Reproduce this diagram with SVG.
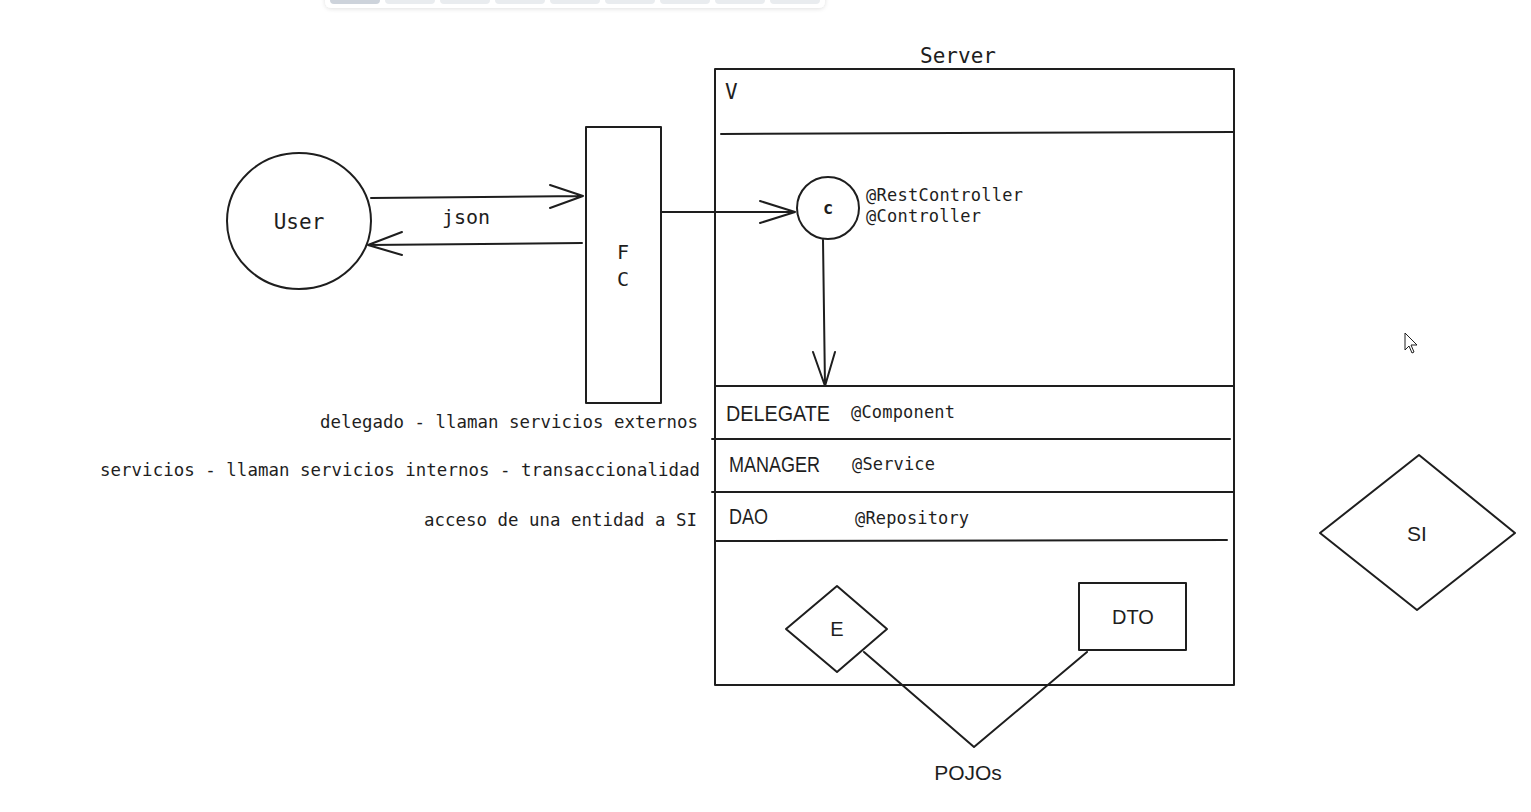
<svg xmlns="http://www.w3.org/2000/svg" width="1531" height="812" viewBox="0 0 1531 812">
<defs>
<style>
.s{fill:none;stroke:#1e1e1e;stroke-width:2;stroke-linecap:round;stroke-linejoin:round}
.w{fill:#fff;stroke:#1e1e1e;stroke-width:2;stroke-linejoin:round}
.m{font-family:"DejaVu Sans Mono","Liberation Mono",monospace;fill:#1e1e1e}
.n{font-family:"Liberation Sans","Noto Sans",sans-serif;fill:#1e1e1e}
.note{font-family:"DejaVu Sans Mono","Liberation Mono",monospace;fill:#1e1e1e;font-size:17.4px}
.ann{font-family:"DejaVu Sans Mono","Liberation Mono",monospace;fill:#1e1e1e;font-size:17px}
.tb{fill:#e9ecef}
</style>
<filter id="sh" x="-5%" y="-50%" width="110%" height="250%"><feDropShadow dx="0" dy="1" stdDeviation="2" flood-color="#000" flood-opacity="0.12"/></filter>
</defs>
<rect width="1531" height="812" fill="#fff"/>

<g id="toolbar">
<rect x="325" y="-10" width="500" height="18" rx="6" fill="#fff" filter="url(#sh)"/>
<rect x="330" y="-10" width="50" height="14" rx="4" fill="#cdd3db"/>
<rect class="tb" x="385" y="-10" width="50" height="14" rx="4"/>
<rect class="tb" x="440" y="-10" width="50" height="14" rx="4"/>
<rect class="tb" x="495" y="-10" width="50" height="14" rx="4"/>
<rect class="tb" x="550" y="-10" width="50" height="14" rx="4"/>
<rect class="tb" x="605" y="-10" width="50" height="14" rx="4"/>
<rect class="tb" x="660" y="-10" width="50" height="14" rx="4"/>
<rect class="tb" x="715" y="-10" width="50" height="14" rx="4"/>
<rect class="tb" x="770" y="-10" width="50" height="14" rx="4"/>
</g>

<g id="server">
<rect class="w" x="715" y="69" width="519" height="616"/>
<text class="m" x="958" y="63" font-size="21" text-anchor="middle">Server</text>
<text class="m" x="725" y="99" font-size="21">V</text>
<path class="s" d="M721 134 L1234 132"/>
<path class="s" d="M715 386 L1234 386"/>
<path class="s" d="M712 439 L1230 439"/>
<path class="s" d="M712 492 L1233 492"/>
<path class="s" d="M715 541 L1227 540"/>
</g>

<g id="layers">
<text class="n" x="726" y="421" font-size="22" textLength="104" lengthAdjust="spacingAndGlyphs">DELEGATE</text>
<text class="ann" x="851" y="418" textLength="104">@Component</text>
<text class="n" x="729" y="472" font-size="22" textLength="91" lengthAdjust="spacingAndGlyphs">MANAGER</text>
<text class="ann" x="852" y="470" textLength="83">@Service</text>
<text class="n" x="729" y="524" font-size="22" textLength="39" lengthAdjust="spacingAndGlyphs">DAO</text>
<text class="ann" x="855" y="524" textLength="114">@Repository</text>
</g>

<g id="user">
<ellipse class="w" cx="299" cy="221" rx="72" ry="68"/>
<text class="m" x="299" y="229" font-size="21" text-anchor="middle">User</text>
</g>

<g id="fc">
<rect class="w" x="586" y="127" width="75" height="276"/>
<text class="m" x="623" y="259" font-size="20" text-anchor="middle">F</text>
<text class="m" x="623" y="286" font-size="20" text-anchor="middle">C</text>
</g>

<g id="controller">
<circle class="w" cx="828" cy="208" r="31"/>
<text class="m" x="828" y="214" font-size="17" font-weight="bold" text-anchor="middle">c</text>
<text class="ann" x="866" y="201" textLength="157">@RestController</text>
<text class="ann" x="866" y="222" textLength="115">@Controller</text>
</g>

<g id="entity">
<path class="w" d="M837 586 L887 629 L837 672 L786 629 Z"/>
<text class="n" x="837" y="636" font-size="20" text-anchor="middle">E</text>
</g>

<g id="dto">
<rect class="w" x="1079" y="583" width="107" height="67"/>
<text class="n" x="1133" y="624" font-size="20" text-anchor="middle">DTO</text>
</g>

<g id="si">
<path class="w" d="M1419 455 L1515 533 L1417 610 L1320 533 Z"/>
<text class="n" x="1417" y="541" font-size="21" text-anchor="middle">SI</text>
</g>

<g id="pojos">
<text class="n" x="968" y="780" font-size="21" text-anchor="middle">POJOs</text>
</g>

<g id="notes">
<text class="note" x="320" y="428" textLength="378">delegado - llaman servicios externos</text>
<text class="note" x="100" y="476" textLength="600">servicios - llaman servicios internos - transaccionalidad</text>
<text class="note" x="424" y="526" textLength="273">acceso de una entidad a SI</text>
</g>

<g id="connectors">
<path class="s" d="M371 198 L583 196 M550 185 L583 196 L550 208"/>
<text class="m" x="466" y="224" font-size="20" text-anchor="middle">json</text>
<path class="s" d="M582 243 L368 245 M402 232 L368 245 L402 255"/>
<path class="s" d="M661 212 L795 212 M760 201 L795 212 L760 223"/>
<path class="s" d="M823 240 L825 386 M813 352 L825 386 L835 352"/>
<path class="s" d="M864 652 L974 747 L1087 652"/>
</g>

<g id="cursor">
<path d="M1405 333 L1405 350 L1409 346 L1412 353 L1414 352 L1411 345 L1417 345 Z" fill="#fff" stroke="#1e1e1e" stroke-width="1"/>
</g>
</svg>
